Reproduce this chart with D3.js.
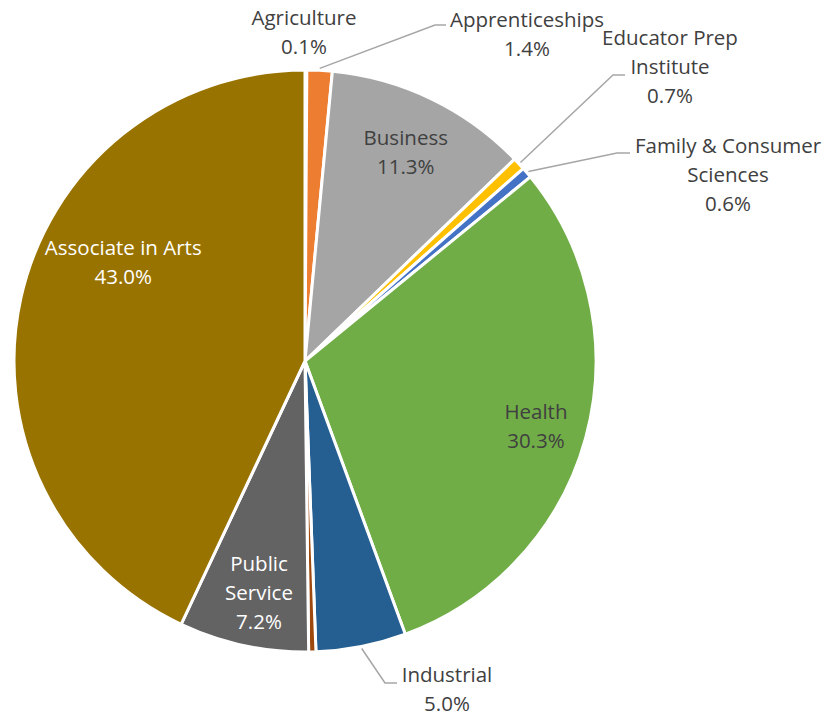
<!DOCTYPE html>
<html>
<head>
<meta charset="utf-8">
<script src="https://cdn.jsdelivr.net/npm/d3@7"></script>
<style>
  body { margin: 0; background: #fff; }
  svg text { font-family: "Open Sans", sans-serif; font-size: 20.5px; }
</style>
</head>
<body>
<div id="chart"></div>
<script>
// --- DATA ---
const categories = ["Agriculture", "Apprenticeships", "Business", "Educator Prep Institute",
  "Family & Consumer Sciences", "Health", "Industrial", "", "Public Service", "Associate in Arts"];
const shares = [0.1, 1.4, 11.3, 0.7, 0.6, 30.3, 5.0, 0.4, 7.2, 43.0];
const colors = ["#5B9BD5", "#ED7D31", "#A5A5A5", "#FFC000", "#4472C4",
  "#70AD47", "#255E91", "#9E480E", "#636363", "#997300"];

// label lines as drawn (wrapped like the original)
const labelLines = {
  "Agriculture": ["Agriculture"],
  "Apprenticeships": ["Apprenticeships"],
  "Business": ["Business"],
  "Educator Prep Institute": ["Educator Prep", "Institute"],
  "Family & Consumer Sciences": ["Family & Consumer", "Sciences"],
  "Health": ["Health"],
  "Industrial": ["Industrial"],
  "Public Service": ["Public", "Service"],
  "Associate in Arts": ["Associate in Arts"]
};

// --- LAYOUT ---
const width = 829, height = 717;
const cx = 305, cy = 361, R = 291;
const lineH = 29;

// inside labels: radius in px along the slice middle, angle shift in degrees
const insideLabels = {
  "Business": { r: 232, shift: 0, fill: "#404040" },
  "Health": { r: 240, shift: 0.5, fill: "#404040" },
  "Public Service": { r: 236, shift: -1, fill: "#fff" },
  "Associate in Arts": { r: 207, shift: 16, fill: "#fff" }
};
// outside labels: text block centre, elbow of the leader line (null = no leader)
const outsideLabels = {
  "Agriculture": { x: 304, y: 32, elbow: null },
  "Apprenticeships": { x: 527, y: 34, elbow: [435, 25], end: 446 },
  "Educator Prep Institute": { x: 670, y: 67, elbow: [613, 75], end: 625 },
  "Family & Consumer Sciences": { x: 728, y: 175, elbow: [617, 153], end: 630 },
  "Industrial": { x: 447, y: 689, elbow: [385, 683], end: 397 }
};

const data = categories.map((c, i) => ({ name: c, value: shares[i], color: colors[i] }));

const svg = d3.select("#chart").append("svg")
  .attr("width", width).attr("height", height);

const pie = d3.pie().sort(null).value(d => d.value);
const arcs = pie(data);
const arc = d3.arc().innerRadius(0).outerRadius(R);

const g = svg.append("g").attr("transform", `translate(${cx},${cy})`);

g.selectAll("path.slice").data(arcs).enter().append("path")
  .attr("class", "slice")
  .attr("d", arc)
  .attr("fill", d => d.data.color)
  .attr("stroke", "#fff")
  .attr("stroke-width", 3)
  .attr("stroke-linejoin", "round");

function polar(r, a) { return [r * Math.sin(a), -r * Math.cos(a)]; }

function addLabel(parent, lines, x, y, fill) {
  const t = parent.append("text").attr("text-anchor", "middle").attr("fill", fill);
  lines.forEach((s, i) => {
    t.append("tspan").attr("x", x).attr("y", y + (i - (lines.length - 1) / 2) * lineH)
      .attr("dy", "0.35em").text(s);
  });
}

arcs.forEach(d => {
  const name = d.data.name;
  if (!name) return;
  const lines = labelLines[name].concat([d.data.value.toFixed(1) + "%"]);
  const mid = (d.startAngle + d.endAngle) / 2;
  if (insideLabels[name]) {
    const o = insideLabels[name];
    const [x, y] = polar(o.r, mid + o.shift * Math.PI / 180);
    addLabel(g, lines, x, y, o.fill);
  } else if (outsideLabels[name]) {
    const o = outsideLabels[name];
    if (o.elbow) {
      const [sx, sy] = polar(R + 2, mid);
      svg.append("polyline")
        .attr("points", [[cx + sx, cy + sy], o.elbow, [o.end, o.elbow[1]]].map(p => p.join(",")).join(" "))
        .attr("fill", "none").attr("stroke", "#A6A6A6").attr("stroke-width", 1.5);
    }
    addLabel(svg, lines, o.x, o.y, "#404040");
  }
});
</script>
</body>
</html>
